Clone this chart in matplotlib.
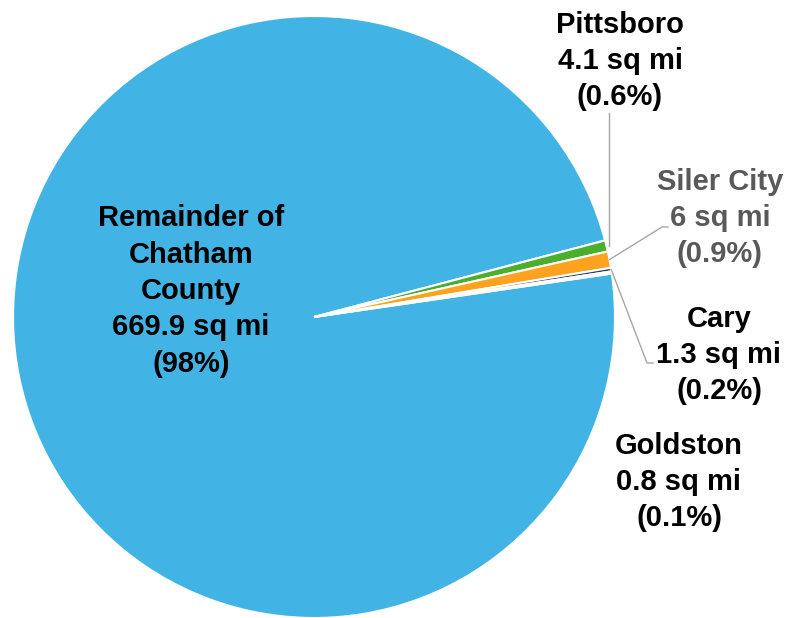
import numpy as np
import matplotlib.pyplot as plt

# Land area of Chatham County by place (sq mi)
places = ['Remainder of\nChatham\nCounty', 'Pittsboro', 'Siler City', 'Cary', 'Goldston']
areas = [669.9, 4.1, 6, 1.3, 0.8]
area_txt = ['669.9', '4.1', '6', '1.3', '0.8']
pct_txt = ['98%', '0.6%', '0.9%', '0.2%', '0.1%']
colors = ['#41B4E5', '#4BAF2D', '#FFA21F', '#1F3B73', '#FFFFFF']
text_colors = ['black', 'black', '#595959', 'black', 'black']

W, H = 792, 618
fig = plt.figure(figsize=(W / 100, H / 100), dpi=100)
ax = fig.add_axes([0, 0, 1, 1])

cx, cy, R = 314, H - 317, 301
wedges, _ = ax.pie(areas, colors=colors, startangle=8.3, counterclock=False,
                   center=(cx, cy), radius=R, frame=True,
                   wedgeprops=dict(edgecolor='white', linewidth=1.5))
ax.set_xlim(0, W)
ax.set_ylim(0, H)
ax.set_aspect('equal')
ax.axis('off')

fam = ['Liberation Sans', 'DejaVu Sans']
# label centres (pixels from top-left)
label_pos = [(191, 291), (620, 61), (720, 218), (719, 355), (679, 482)]
for i, name in enumerate(places):
    txt = f'{name}\n{area_txt[i]} sq mi\n({pct_txt[i]})'
    x, y = label_pos[i]
    ax.text(x, H - y, txt, ha='center', va='center', fontsize=21,
            fontweight='bold', family=fam, color=text_colors[i], linespacing=1.38)

def edge_point(w):
    a = np.deg2rad((w.theta1 + w.theta2) / 2)
    return cx + R * np.cos(a), cy + R * np.sin(a)

lc = '#A6A6A6'
# Pittsboro leader
x0, y0 = edge_point(wedges[1])
ax.plot([x0 + 3, x0 + 3], [y0, H - 113], color=lc, lw=1)
# Siler City leader
x0, y0 = edge_point(wedges[2])
ax.plot([x0, 662, 668], [y0, H - 227, H - 227], color=lc, lw=1)
# Cary leader
x0, y0 = edge_point(wedges[3])
ax.plot([x0, 647, 653], [y0, H - 363, H - 363], color=lc, lw=1)

fig.savefig('out.png', dpi=100)
